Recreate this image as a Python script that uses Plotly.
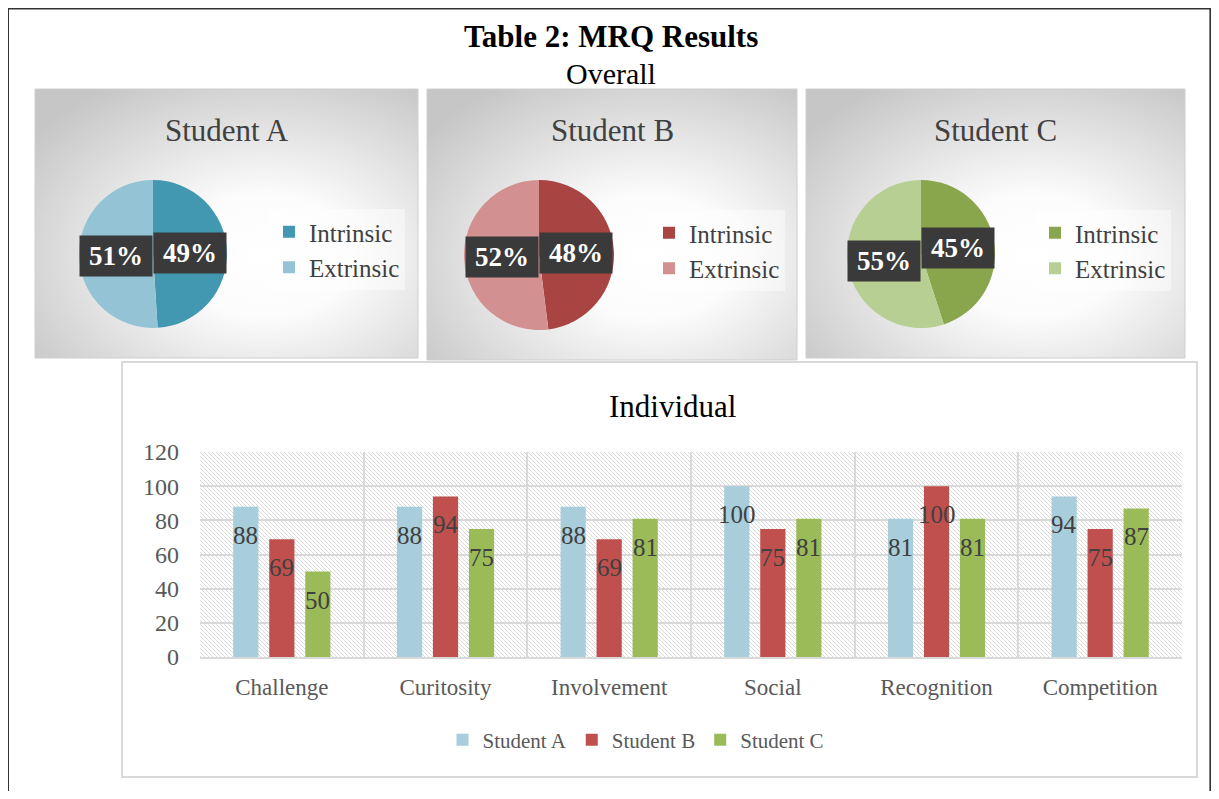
import base64
import plotly.graph_objects as go

# ---------------- data ----------------
students = ["Student A", "Student B", "Student C"]
motive_types = ["Intrinsic", "Extrinsic"]
overall_a = [49, 51]
overall_b = [48, 52]
overall_c = [45, 55]

categories = ["Challenge", "Curitosity", "Involvement", "Social", "Recognition", "Competition"]
scores_a = [88, 88, 88, 100, 81, 94]
scores_b = [69, 94, 69, 75, 100, 75]
scores_c = [50, 75, 81, 81, 81, 87]
y_ticks = [0, 20, 40, 60, 80, 100, 120]

# ---------------- geometry helpers (screen px -> paper) ----------------
OFF = 8
W, H = 1219 - 2 * OFF, 799 - 2 * OFF


def fx(x):
    return (x - OFF) / W


def fy(y):
    return 1 - (y - OFF) / H


SERIF = "Liberation Serif"
TXT = "#404040"
GRID = "#d9d9d9"


def svg_uri(svg):
    return "data:image/svg+xml;base64," + base64.b64encode(svg.encode()).decode()


def gradient_svg(w, h):
    return svg_uri(
        f"<svg xmlns='http://www.w3.org/2000/svg' width='{w}' height='{h}'>"
        "<defs><radialGradient id='g' cx='0.6' cy='0.62' r='0.75'>"
        "<stop offset='0' stop-color='#ffffff'/>"
        "<stop offset='0.3' stop-color='#fcfcfc'/>"
        "<stop offset='1' stop-color='#c6c6c6'/>"
        "</radialGradient></defs>"
        "<rect width='100%' height='100%' fill='url(#g)'/></svg>"
    )


def hatch_svg(w, h):
    return svg_uri(
        f"<svg xmlns='http://www.w3.org/2000/svg' width='{w}' height='{h}'>"
        "<defs><pattern id='p' width='4' height='4' patternUnits='userSpaceOnUse'>"
        "<path d='M-1,-1 L5,5 M-1,3 L1,5 M3,-1 L5,1' stroke='#dadada' stroke-width='1'/>"
        "</pattern></defs>"
        "<rect width='100%' height='100%' fill='#ffffff'/>"
        "<rect width='100%' height='100%' fill='url(#p)'/></svg>"
    )


fig = go.Figure()
images, shapes, annotations = [], [], []

# ---------------- pies ----------------
pies = [
    dict(name=students[0], vals=overall_a, colors=["#4198B0", "#93C3D5"],
         panel=(35, 89, 418, 358), c=(153, 254), r=74, ly=(253, 256),
         leg=(269, 209), legname="legend"),
    dict(name=students[1], vals=overall_b, colors=["#A84442", "#D39090"],
         panel=(427, 89, 797, 360), c=(539, 255), r=75, ly=(253, 257),
         leg=(649, 210), legname="legend2"),
    dict(name=students[2], vals=overall_c, colors=["#8AA64C", "#B8CF94"],
         panel=(806, 89, 1185, 358), c=(921, 254), r=74, ly=(248, 261),
         leg=(1035, 210), legname="legend3"),
]

legend_layouts = {}
for k, p in enumerate(pies):
    x0, y0, x1, y1 = p["panel"]
    images.append(dict(source=gradient_svg(x1 - x0, y1 - y0), xref="paper", yref="paper",
                       x=fx(x0), y=fy(y0), sizex=fx(x1) - fx(x0), sizey=fy(y0) - fy(y1),
                       xanchor="left", yanchor="top", sizing="stretch", layer="below"))
    shapes.append(dict(type="rect", xref="paper", yref="paper", x0=fx(x0), x1=fx(x1),
                       y0=fy(y1), y1=fy(y0), line=dict(color="#cfcfcf", width=1)))
    cx, cy = p["c"]
    r = p["r"]
    # zero-width spaces keep each pie's legend entries separate (same visible text)
    labels = [t + "\u200b" * k for t in motive_types]
    fig.add_trace(go.Pie(
        labels=labels, values=p["vals"], sort=False, direction="clockwise",
        rotation=0, textinfo="none", hoverinfo="label+percent",
        marker=dict(colors=p["colors"], line=dict(width=0)),
        domain=dict(x=[fx(cx - r), fx(cx + r)], y=[fy(cy + r), fy(cy - r)]),
        legend=p["legname"], name=p["name"],
    ))
    annotations.append(dict(text=p["name"], xref="paper", yref="paper",
                            x=fx((x0 + x1) / 2), y=fy(130), xanchor="center",
                            yanchor="middle", showarrow=False,
                            font=dict(family=SERIF, size=31, color=TXT)))
    # data labels (dark boxes)
    for i, v in enumerate(p["vals"]):
        annotations.append(dict(
            text=f"<b>{v}%</b>", xref="paper", yref="paper",
            x=fx(cx), y=fy(p["ly"][i]), xanchor="left" if i == 0 else "right",
            yanchor="middle", showarrow=False, bgcolor="#3a3a3a", borderpad=2,
            width=68, height=36,
            font=dict(family=SERIF, size=27, color="#ffffff")))
    lx, ly = p["leg"]
    legend_layouts[p["legname"]] = dict(
        xref="container", yref="container",
        x=fx(lx), y=fy(ly), xanchor="left", yanchor="top",
        bgcolor="rgba(255,255,255,0.45)", borderwidth=0,
        font=dict(family=SERIF, size=25, color=TXT), traceorder="normal",
        itemclick=False, itemdoubleclick=False)

# ---------------- bar chart ----------------
bar_colors = ["#A9CEDB", "#C0504D", "#9BBB59"]
series = [scores_a, scores_b, scores_c]
SLOT = 36  # px width of one bar slot inside a category group
for s, (name, vals, col) in enumerate(zip(students, series, bar_colors)):
    fig.add_trace(go.Bar(
        x=categories, y=vals, name=name, marker=dict(color=col, line=dict(width=0)),
        legend="legend4", xaxis="x", yaxis="y",
    ))
    # value labels just inside the bar end (placed through the axes)
    for cat, v in zip(categories, vals):
        annotations.append(dict(
            text=str(v), x=cat, y=v, xref="x", yref="y", showarrow=False,
            xanchor="center", yanchor="top", xshift=(s - 1) * SLOT, yshift=-13,
            font=dict(family=SERIF, size=25, color=TXT)))

PX0, PX1, PY0, PY1 = 200, 1182, 452, 657
images.append(dict(source=hatch_svg(PX1 - PX0, PY1 - PY0), xref="paper", yref="paper",
                   x=fx(PX0), y=fy(PY0), sizex=fx(PX1) - fx(PX0), sizey=fy(PY0) - fy(PY1),
                   xanchor="left", yanchor="top", sizing="stretch", layer="below"))

# bar panel border
shapes.append(dict(type="rect", xref="paper", yref="paper", x0=fx(122), x1=fx(1197),
                   y0=fy(777), y1=fy(362), line=dict(color=GRID, width=2)))
# outer frame
shapes.append(dict(type="rect", xref="paper", yref="paper", x0=0.0, x1=0.9995,
                   y0=-0.05, y1=0.9995, line=dict(color="#333333", width=2)))

annotations += [
    dict(text="<b>Table 2: MRQ Results</b>", xref="paper", yref="paper", x=fx(611), y=fy(36),
         xanchor="center", yanchor="middle",
         showarrow=False, font=dict(family=SERIF, size=31, color="#000000")),
    dict(text="Overall", xref="paper", yref="paper", x=fx(611), y=fy(73),
         xanchor="center", yanchor="middle",
         showarrow=False, font=dict(family=SERIF, size=30, color="#000000")),
    dict(text="Individual", xref="paper", yref="paper", x=fx(672), y=fy(406),
         xanchor="center", yanchor="middle",
         showarrow=False, font=dict(family=SERIF, size=31, color="#000000")),
]

fig.update_layout(
    width=W, height=H, margin=dict(l=0, r=0, t=0, b=0, autoexpand=False),
    paper_bgcolor="#ffffff", plot_bgcolor="rgba(0,0,0,0)",
    barmode="group", bargap=0.34, bargroupgap=0.3,
    images=images, shapes=shapes, annotations=annotations,
    xaxis=dict(domain=[fx(PX0), fx(PX1)], type="category", tickson="boundaries",
               showgrid=True, gridcolor=GRID, gridwidth=2, showline=True,
               linecolor=GRID, linewidth=2, ticks="", ticklabelstandoff=8,
               automargin=False,
               tickfont=dict(family=SERIF, size=23, color="#595959"), fixedrange=True),
    yaxis=dict(domain=[fy(PY1), fy(PY0)], range=[0, 120], tickvals=y_ticks,
               showgrid=True, gridcolor=GRID, gridwidth=2, zeroline=False,
               showline=False, ticks="", ticklabelstandoff=20, automargin=False,
               tickfont=dict(family=SERIF, size=24, color="#595959"), fixedrange=True),
    legend4=dict(orientation="h", xref="container", yref="container",
                 x=fx(636), xanchor="center", y=fy(740), yanchor="middle",
                 font=dict(family=SERIF, size=21, color="#595959"), bgcolor="rgba(0,0,0,0)",
                 traceorder="normal"),
    **legend_layouts,
)

fig.write_html("out.html")
